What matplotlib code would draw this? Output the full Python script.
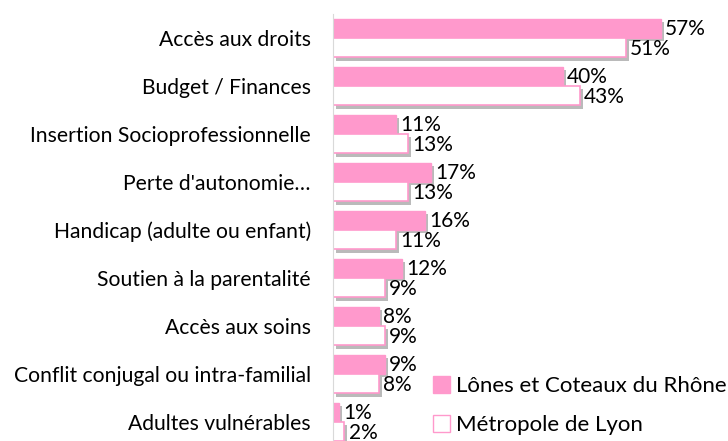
import matplotlib.pyplot as plt
import matplotlib.patheffects as pe
from matplotlib.patches import Patch
import numpy as np

categories = ["Accès aux droits", "Budget / Finances", "Insertion Socioprofessionnelle",
              "Perte d'autonomie…", "Handicap (adulte ou enfant)", "Soutien à la parentalité",
              "Accès aux soins", "Conflit conjugal ou intra-familial", "Adultes vulnérables"]
lones = [57, 40, 11, 17, 16, 12, 8, 9, 1]
metropole = [51, 43, 13, 13, 11, 9, 9, 8, 2]
series_names = ["Lônes et Coteaux du Rhône", "Métropole de Lyon"]

PINK = "#FF99CC"
plt.rcParams['font.family'] = ['Lato', 'DejaVu Sans']

fig = plt.figure(figsize=(7.28, 4.41), dpi=100)
ax = fig.add_axes([333 / 728, -5 / 441, 1 - 333 / 728, 432 / 441])

y = np.arange(len(categories))
h = 0.4
shadow = [pe.SimplePatchShadow(offset=(2, -2.5), shadow_rgbFace="#8c8c8c", alpha=0.6), pe.Normal()]
ax.barh(y - h / 2, lones, height=h, color=PINK, edgecolor=PINK, linewidth=1, path_effects=shadow)
ax.barh(y + h / 2, metropole, height=h, color="white", edgecolor=PINK, linewidth=1.2, path_effects=shadow)

# value labels, slightly pulled apart so the two rows don't collide
for yi, v in zip(y, lones):
    ax.text(v + 0.7, yi - h / 2 + 0.02, f"{v}%", va="center", ha="left", fontsize=15)
for yi, v in zip(y, metropole):
    ax.text(v + 0.7, yi + h / 2 + 0.03, f"{v}%", va="center", ha="left", fontsize=15)

ax.set_yticks(y)
ax.set_yticklabels(categories, fontsize=15.2)
ax.set_ylim(len(categories) - 0.5, -0.5)
ax.set_xlim(0, 68.7)
ax.set_xticks([])
ax.tick_params(axis="y", length=0, pad=16)
for s in ["top", "right", "bottom"]:
    ax.spines[s].set_visible(False)
ax.spines["left"].set_color("#d9d9d9")

handles = [Patch(facecolor=PINK, edgecolor=PINK), Patch(facecolor="white", edgecolor=PINK)]
fig.legend(handles, series_names, loc="lower left", bbox_to_anchor=(424 / 728, -3 / 441),
           frameon=False, fontsize=16, handlelength=0.75, handleheight=0.75,
           handletextpad=0.3, labelspacing=0.85, borderaxespad=0)

fig.savefig("out.png", dpi=100)
